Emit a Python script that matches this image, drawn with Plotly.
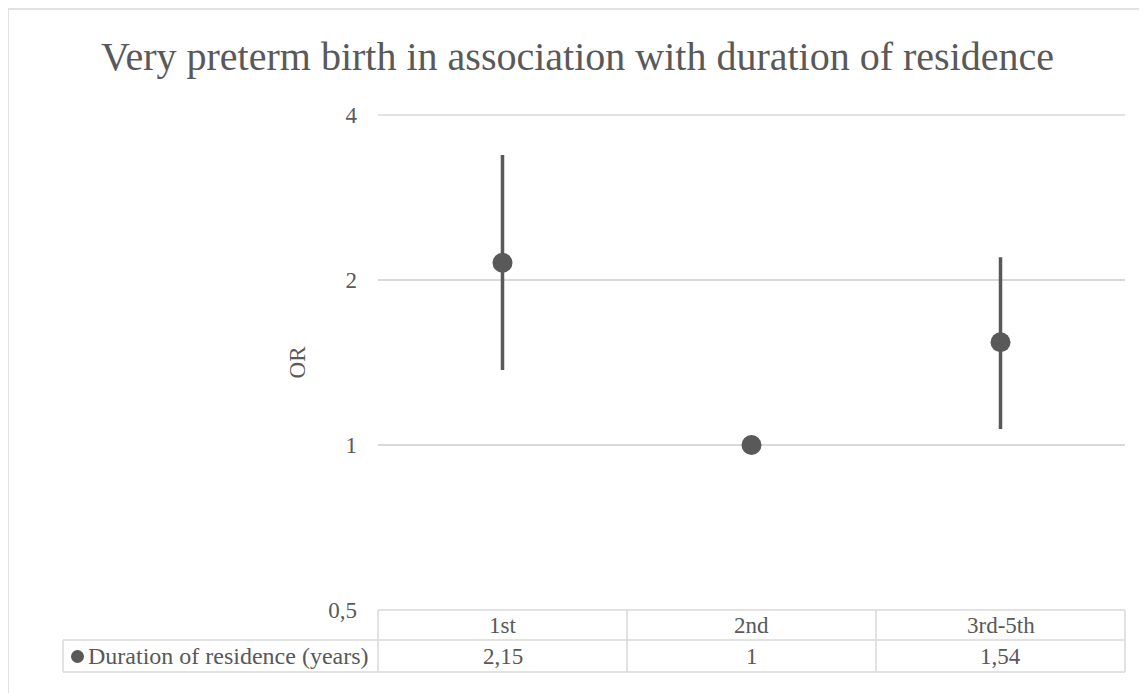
import plotly.graph_objects as go

# Data
categories = ["1st", "2nd", "3rd-5th"]
odds_ratio = [2.15, 1.0, 1.54]
ci_upper = [3.38, 1.0, 2.20]
ci_lower = [1.37, 1.0, 1.07]
table_labels = ["2,15", "1", "1,54"]
series_name = "Duration of residence (years)"
y_ticks = [0.5, 1, 2, 4]
y_tick_text = ["0,5", "1", "2", "4"]

# page body has an 8px margin, so the figure is a bit smaller and shifted
OFF = 8
W, H = 1147 - OFF, 693 - OFF
L, T = 378 - OFF, 115 - OFF
R = W - (1125 - OFF)
B = H - (610 - OFF)
plot_w = W - L - R
plot_h = H - T - B

GREY = "#595959"
LINE = "#d9d9d9"
FONT = "Liberation Serif, Times New Roman, serif"


def px_x(p):
    return (p - OFF - L) / plot_w


def px_y(p):
    return (H - B - (p - OFF)) / plot_h


err_plus = [u - v for u, v in zip(ci_upper, odds_ratio)]
err_minus = [v - l for v, l in zip(odds_ratio, ci_lower)]

fig = go.Figure()
fig.add_trace(go.Scatter(
    x=categories,
    y=odds_ratio,
    mode="markers",
    name=series_name,
    marker=dict(color=GREY, size=20),
    error_y=dict(type="data", symmetric=False, array=err_plus, arrayminus=err_minus,
                 color=GREY, thickness=3.5, width=0),
))

shapes = []


def hline(y, x0, x1):
    shapes.append(dict(type="line", xref="paper", yref="paper", layer="below",
                       x0=px_x(x0), x1=px_x(x1), y0=px_y(y), y1=px_y(y),
                       line=dict(color=LINE, width=1.5)))


def vline(x, y0, y1):
    shapes.append(dict(type="line", xref="paper", yref="paper", layer="below",
                       x0=px_x(x), x1=px_x(x), y0=px_y(y0), y1=px_y(y1),
                       line=dict(color=LINE, width=1.5)))


# top gridline (sits on the plot edge)
hline(115, 378, 1125)

# data table under the plot
row1, row2, row3 = 610, 640, 672
hline(row1, 378, 1125)
hline(row2, 63, 1125)
hline(row3, 63, 1125)
vline(63, row2, row3)
for i in range(len(categories) + 1):
    bx = 378 + i * plot_w / len(categories)
    vline(bx, row1, row3)

# chart border
shapes.append(dict(type="rect", xref="paper", yref="paper",
                   x0=px_x(8), x1=px_x(1160), y0=px_y(9), y1=px_y(710),
                   line=dict(color=LINE, width=1.5)))

# legend key in the table (a real marker drawn as a shape-free circle)
shapes.append(dict(type="circle", xref="paper", yref="paper",
                   x0=px_x(71), x1=px_x(84), y0=px_y(663), y1=px_y(650),
                   fillcolor=GREY, line=dict(width=0)))

annotations = []
for cat, lab in zip(categories, table_labels):
    annotations.append(dict(x=cat, xref="x", y=px_y((row1 + row2) / 2), yref="paper",
                            text=cat, showarrow=False, yanchor="middle",
                            font=dict(family=FONT, size=23, color=GREY)))
    annotations.append(dict(x=cat, xref="x", y=px_y((row2 + row3) / 2), yref="paper",
                            text=lab, showarrow=False, yanchor="middle",
                            font=dict(family=FONT, size=23, color=GREY)))
annotations.append(dict(x=px_x(86), xref="paper", y=px_y((row2 + row3) / 2), yref="paper",
                        text=series_name,
                        showarrow=False, xanchor="left", yanchor="middle",
                        font=dict(family=FONT, size=24, color=GREY)))
annotations.append(dict(x=px_x((102 + 1053) / 2), xref="paper", y=px_y(57), yref="paper",
                        text="Very preterm birth in association with duration of residence",
                        showarrow=False, xanchor="center", yanchor="middle",
                        font=dict(family=FONT, size=40, color=GREY)))

fig.update_layout(
    width=W, height=H,
    margin=dict(l=L, r=R, t=T, b=B),
    paper_bgcolor="white", plot_bgcolor="white",
    showlegend=False,
    shapes=shapes,
    annotations=annotations,
)
fig.update_xaxes(type="category", range=[-0.5, 2.5], showticklabels=False,
                 showgrid=False, zeroline=False, showline=False, ticks="")
fig.update_yaxes(type="log", range=[-0.30103, 0.60206], tickvals=y_ticks, ticktext=y_tick_text,
                 showgrid=True, gridcolor=LINE, gridwidth=1.5, zeroline=False, showline=False,
                 ticks="", ticklabelstandoff=20,
                 tickfont=dict(family=FONT, size=23, color=GREY),
                 title=dict(text="OR", standoff=16, font=dict(family=FONT, size=23, color=GREY)))

fig.write_html("out.html")
